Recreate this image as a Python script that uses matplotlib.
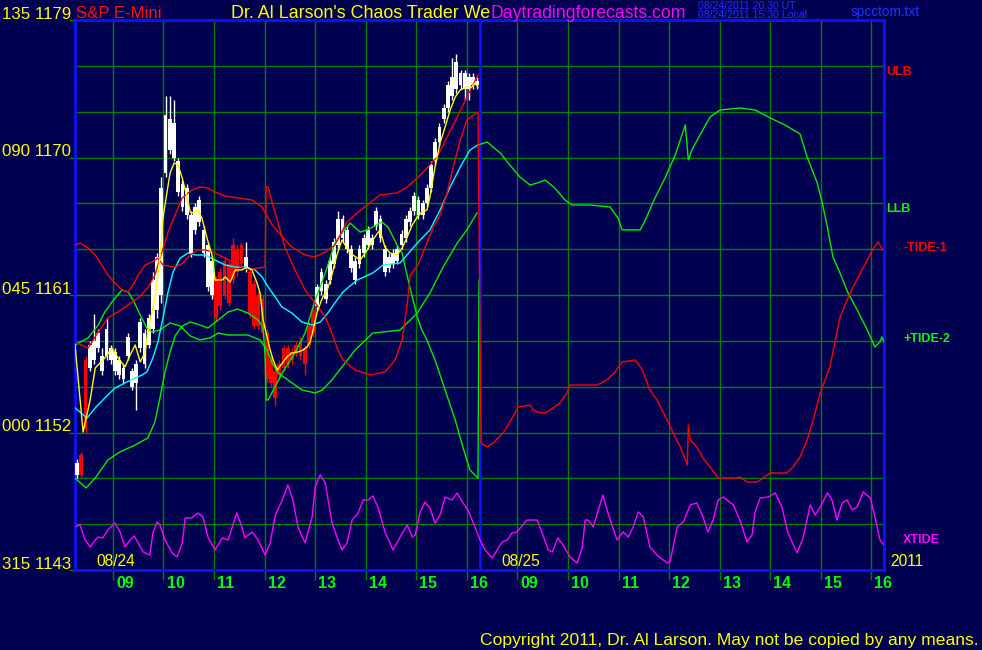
import matplotlib
matplotlib.use("Agg")
import matplotlib.pyplot as plt
import numpy as np

# ---------------- data ----------------
# 5 minute bars of 08/24 (08:15 - 16:15)
bar_hi = [1150.25, 1150.75, 1157.0, 1158.0, 1159.75, 1158.75, 1157.5, 1159.5, 1157.75, 1157.5,
          1157.0, 1156.5, 1158.5, 1156.25, 1156.75, 1159.5, 1158.75, 1159.75, 1162.5, 1163.75,
          1168.75, 1174.0, 1174.0, 1173.75, 1170.0, 1168.5, 1168.25, 1166.5, 1167.0, 1167.5,
          1165.5, 1164.5, 1163.5, 1162.25, 1162.75, 1163.5, 1163.25, 1164.75, 1164.25, 1164.5,
          1164.5, 1162.75, 1162.0, 1161.25, 1161.0, 1158.75, 1157.0, 1156.25, 1156.75, 1157.75,
          1157.75, 1157.5, 1158.0, 1158.25, 1157.75, 1159.25, 1160.25, 1161.75, 1162.75, 1162.0,
          1163.5, 1164.75, 1166.5, 1166.25, 1165.5, 1164.25, 1163.5, 1164.25, 1165.0, 1165.5,
          1165.0, 1166.75, 1166.25, 1164.25, 1163.75, 1164.0, 1164.25, 1165.25, 1166.25, 1166.75,
          1167.75, 1167.5, 1167.25, 1168.25, 1169.75, 1171.25, 1172.25, 1173.5, 1175.0, 1176.5,
          1176.75, 1175.75, 1175.75, 1175.5, 1175.5, 1175.25]
bar_lo = [1149.0, 1149.0, 1152.0, 1156.0, 1156.5, 1157.25, 1155.75, 1156.75, 1156.5, 1155.75,
          1155.5, 1155.25, 1156.75, 1154.75, 1153.5, 1157.25, 1156.25, 1157.5, 1158.5, 1159.5,
          1160.5, 1168.75, 1170.25, 1169.75, 1167.5, 1166.5, 1166.0, 1163.5, 1165.0, 1165.5,
          1163.5, 1161.25, 1160.75, 1159.25, 1160.0, 1160.75, 1160.25, 1161.75, 1162.25, 1162.75,
          1162.5, 1159.5, 1158.75, 1158.75, 1158.25, 1155.25, 1155.0, 1153.75, 1155.5, 1156.0,
          1156.25, 1156.5, 1157.0, 1156.75, 1155.75, 1157.5, 1158.25, 1160.0, 1161.0, 1160.5,
          1161.75, 1162.75, 1164.0, 1164.5, 1163.75, 1162.5, 1161.75, 1162.75, 1163.5, 1164.0,
          1164.0, 1165.25, 1164.5, 1162.25, 1162.5, 1162.75, 1163.0, 1164.0, 1164.5, 1165.5,
          1166.25, 1166.0, 1166.0, 1166.75, 1167.75, 1169.5, 1170.75, 1172.25, 1173.0, 1173.75,
          1174.25, 1174.5, 1173.75, 1173.75, 1174.5, 1174.5]
bar_op = [1149.25, 1150.5, 1156.75, 1156.25, 1156.75, 1157.5, 1156.0, 1157.0, 1156.75, 1156.0,
          1155.75, 1155.5, 1157.0, 1155.0, 1155.25, 1157.5, 1156.5, 1157.75, 1158.75, 1160.0,
          1161.0, 1169.0, 1170.5, 1172.25, 1169.75, 1168.25, 1166.25, 1166.25, 1165.25, 1165.75,
          1165.25, 1164.25, 1161.0, 1162.0, 1162.5, 1163.25, 1163.0, 1164.25, 1164.0, 1164.25,
          1162.75, 1162.5, 1161.75, 1161.0, 1160.75, 1158.5, 1156.75, 1156.0, 1156.5, 1157.5,
          1157.5, 1157.25, 1157.75, 1158.0, 1157.5, 1159.0, 1160.0, 1160.25, 1161.25, 1160.75,
          1162.0, 1163.0, 1164.25, 1164.75, 1165.25, 1164.0, 1163.25, 1163.0, 1163.75, 1164.25,
          1164.75, 1165.5, 1166.0, 1164.0, 1162.75, 1163.0, 1163.25, 1164.25, 1164.75, 1165.75,
          1166.5, 1167.25, 1166.25, 1167.0, 1168.0, 1169.75, 1171.0, 1172.5, 1173.25, 1174.0,
          1174.5, 1175.5, 1174.5, 1175.25, 1174.75, 1175.0]
bar_cl = [1150.0, 1149.25, 1152.25, 1157.75, 1158.0, 1158.5, 1157.0, 1158.75, 1157.5, 1157.25,
          1156.75, 1156.25, 1158.25, 1156.0, 1156.5, 1159.25, 1158.5, 1159.5, 1162.0, 1163.5,
          1168.0, 1172.75, 1172.5, 1170.0, 1167.75, 1166.75, 1168.0, 1163.75, 1166.75, 1167.25,
          1163.75, 1161.5, 1163.25, 1159.5, 1160.25, 1161.0, 1160.5, 1162.0, 1162.5, 1163.0,
          1163.5, 1159.75, 1159.0, 1159.0, 1158.5, 1155.5, 1155.25, 1154.25, 1155.75, 1156.25,
          1156.5, 1156.75, 1157.25, 1157.0, 1156.5, 1157.75, 1158.5, 1161.5, 1162.5, 1161.75,
          1163.25, 1164.5, 1166.0, 1166.0, 1164.0, 1162.75, 1162.0, 1164.0, 1164.75, 1165.25,
          1164.25, 1166.5, 1164.75, 1162.5, 1163.5, 1163.75, 1164.0, 1165.0, 1166.0, 1166.5,
          1167.5, 1166.25, 1167.0, 1168.0, 1169.5, 1171.0, 1172.0, 1173.25, 1174.75, 1175.25,
          1176.25, 1174.75, 1175.5, 1174.5, 1175.25, 1174.75]
bar_col = "wrr" + "w" * 30 + "r" * 7 + "w" + "r" * 16 + "w" * 39

# fast average (yellow), 08/24 clock hours
yel_t = [8.25, 8.41, 8.55, 8.65, 8.84, 8.98, 9.10, 9.24, 9.34, 9.44, 9.54, 9.64, 9.69, 9.83, 9.93,
         9.99, 10.07, 10.13, 10.21, 10.29, 10.37, 10.47, 10.53, 10.58, 10.68, 10.76, 10.86, 10.96,
         11.02, 11.16, 11.22, 11.32, 11.42, 11.55, 11.65, 11.75, 11.85, 11.91, 11.97, 12.05, 12.11,
         12.17, 12.25, 12.35, 12.44, 12.54, 12.66, 12.76, 12.84, 12.90, 12.96, 13.04, 13.14, 13.24,
         13.33, 13.43, 13.53, 13.69, 13.89, 14.03, 14.14, 14.28, 14.38, 14.48, 14.62, 14.72, 14.82,
         14.92, 15.02, 15.11, 15.21, 15.27, 15.37, 15.47, 15.57, 15.67, 15.77, 15.87, 16.00, 16.10,
         16.16, 16.22]
yel_v = [1157.73, 1152.03, 1154.13, 1156.22, 1156.88, 1157.53, 1156.88, 1156.29, 1157.07, 1157.73,
         1156.62, 1157.27, 1158.58, 1160.80, 1163.42, 1166.04, 1167.74, 1168.99, 1169.64, 1169.51,
         1168.66, 1167.35, 1166.43, 1166.37, 1166.56, 1166.04, 1164.73, 1163.62, 1161.98, 1161.98,
         1162.18, 1161.85, 1162.64, 1162.64, 1162.83, 1162.64, 1161.79, 1161.13, 1159.36, 1158.25,
         1157.40, 1156.75, 1156.09, 1156.55, 1156.94, 1157.21, 1157.27, 1157.40, 1157.60, 1157.93,
         1158.71, 1159.89, 1160.80, 1161.33, 1162.31, 1163.62, 1164.60, 1163.75, 1163.29, 1163.95,
         1164.60, 1165.26, 1164.14, 1163.75, 1163.62, 1164.08, 1164.80, 1165.58, 1166.11, 1166.43,
         1166.56, 1167.42, 1169.38, 1170.95, 1172.00, 1173.11, 1173.96, 1174.42, 1174.61, 1174.61,
         1174.88, 1174.61]

# slow average (cyan)
cya_t = [8.25, 8.49, 8.65, 8.84, 9.04, 9.24, 9.44, 9.58, 9.67, 9.79, 9.89, 9.99, 10.09, 10.19, 10.33,
         10.49, 10.62, 10.82, 11.02, 11.22, 11.42, 11.61, 11.81, 11.95, 12.07, 12.21, 12.34, 12.54,
         12.74, 12.94, 13.10, 13.25, 13.39, 13.55, 13.83, 14.14, 14.34, 14.68, 15.02, 15.27, 15.47,
         15.67, 15.87, 16.06, 16.22]
cya_v = [1153.61, 1152.95, 1153.61, 1154.26, 1154.91, 1155.24, 1155.57, 1155.77, 1155.96, 1156.88,
         1157.93, 1159.50, 1161.20, 1162.51, 1163.42, 1163.75, 1163.62, 1163.62, 1163.29, 1162.96,
         1162.83, 1162.83, 1162.64, 1162.18, 1161.53, 1160.87, 1160.22, 1159.82, 1159.23, 1159.04,
         1159.23, 1159.82, 1160.48, 1161.20, 1161.98, 1162.44, 1162.96, 1163.10, 1164.40, 1165.26,
         1166.56, 1168.07, 1169.38, 1170.49, 1170.82]

# upper band (red)
ulb_t = [8.29, 8.51, 8.71, 8.90, 9.10, 9.30, 9.50, 9.69, 9.83, 9.97, 10.09, 10.23, 10.37, 10.56,
         10.72, 10.88, 11.02, 11.22, 11.47, 11.75, 11.95, 12.01, 12.15, 12.35, 12.54, 12.80, 13.00,
         13.20, 13.39, 13.63, 13.83, 14.03, 14.28, 14.62, 14.82, 15.02, 15.21, 15.41, 15.61, 15.81,
         16.00, 16.22]
ulb_v = [1157.86, 1157.53, 1158.58, 1159.50, 1159.89, 1160.35, 1160.80, 1161.46, 1162.31, 1163.82,
         1165.12, 1166.24, 1167.35, 1167.87, 1168.07, 1168.00, 1167.74, 1167.48, 1167.35, 1167.22,
         1166.76, 1166.37, 1165.58, 1164.80, 1164.14, 1163.62, 1163.49, 1163.82, 1164.27, 1165.78,
         1166.37, 1166.89, 1167.55, 1167.68, 1168.07, 1168.66, 1169.31, 1170.03, 1171.34, 1172.65,
         1173.96, 1175.40]

# -TIDE-1 (red), 08/24 part and 08/25 part
td1a_t = [8.25, 8.35, 8.51, 8.65, 8.78, 8.90, 9.04, 9.18, 9.30, 9.40, 9.50, 9.64, 9.77, 9.89, 9.99,
          10.23, 10.39, 10.53, 10.68, 10.82, 10.96, 11.22, 11.47, 11.67, 11.87, 12.01, 12.03, 12.07,
          12.15, 12.25, 12.40, 12.60, 12.80, 13.00, 13.20, 13.33, 13.45, 13.55, 13.79, 14.09, 14.38,
          14.58, 14.72, 14.82, 14.88, 15.03, 15.21, 15.33, 15.47, 15.61, 15.73, 15.87, 16.00, 16.22]
td1a_v = [1164.27, 1164.40, 1164.08, 1163.62, 1162.96, 1162.31, 1161.79, 1161.33, 1161.20, 1161.66,
          1162.31, 1162.96, 1163.16, 1163.42, 1162.96, 1162.83, 1163.10, 1163.62, 1163.95, 1163.95,
          1163.82, 1163.42, 1162.96, 1162.64, 1162.77, 1162.83, 1168.07, 1168.07, 1167.02, 1165.91,
          1164.14, 1162.64, 1161.33, 1160.48, 1159.56, 1158.51, 1157.40, 1156.75, 1156.09, 1155.77,
          1155.96, 1156.75, 1158.06, 1160.35, 1162.31, 1162.96, 1164.40, 1165.39, 1166.24, 1167.68,
          1169.38, 1171.15, 1172.46, 1172.98]
td1b_t = [8.28, 8.40, 8.52, 8.72, 8.91, 9.01, 9.25, 9.31, 9.45, 9.59, 9.84, 9.98, 10.04, 10.58, 10.77,
          10.93, 11.07, 11.33, 11.47, 11.62, 11.76, 11.86, 11.96, 12.08, 12.22, 12.36, 12.38, 12.42,
          12.55, 12.67, 12.81, 12.97, 13.34, 13.40, 13.54, 13.74, 13.86, 14.00, 14.33, 14.45, 14.59,
          14.73, 14.85, 14.99, 15.18, 15.38, 15.58, 15.74, 15.92, 16.02, 16.13, 16.23]
td1b_v = [1151.31, 1151.05, 1151.31, 1151.97, 1153.02, 1153.67, 1153.80, 1153.47, 1153.28, 1153.34,
          1153.93, 1154.59, 1155.11, 1155.11, 1155.44, 1155.96, 1156.62, 1156.75, 1156.09, 1154.78,
          1154.13, 1153.47, 1152.82, 1151.97, 1151.05, 1149.87, 1152.49, 1151.51, 1151.05, 1150.33,
          1149.74, 1149.02, 1149.02, 1149.09, 1148.76, 1148.76, 1149.02, 1149.35, 1149.35, 1149.74,
          1150.40, 1151.51, 1152.82, 1154.59, 1156.27, 1159.56, 1161.13, 1162.18, 1163.29, 1163.95,
          1164.47, 1163.95]

# +TIDE-2 (green), 08/25
td2_t = [8.22, 8.40, 8.66, 8.85, 9.05, 9.25, 9.39, 9.55, 9.74, 9.94, 10.08, 10.44, 10.83, 10.99, 11.07,
         11.43, 11.53, 11.72, 11.92, 12.12, 12.32, 12.38, 12.45, 12.61, 12.81, 13.01, 13.40, 13.70,
         14.00, 14.29, 14.59, 14.73, 14.93, 15.03, 15.13, 15.24, 15.38, 15.54, 15.72, 15.92, 16.07,
         16.17, 16.21, 16.25]
td2_v = [1170.82, 1171.01, 1170.30, 1169.51, 1168.72, 1168.20, 1168.33, 1168.53, 1168.00, 1167.22,
         1166.89, 1166.89, 1166.76, 1166.04, 1165.26, 1165.26, 1165.91, 1167.35, 1168.66, 1170.16,
         1172.13, 1169.84, 1170.49, 1171.47, 1172.65, 1173.11, 1173.24, 1173.11, 1172.59, 1172.13,
         1171.54, 1170.03, 1168.33, 1167.02, 1165.45, 1163.49, 1162.44, 1161.13, 1160.02, 1158.71,
         1157.60, 1157.93, 1158.25, 1157.93]

# green lines of 08/24
gra_t = [8.25, 8.51, 8.71, 8.84, 8.98, 9.18, 9.30, 9.40, 9.54, 9.67, 9.77, 9.93, 10.13, 10.33, 10.53,
         10.72, 10.92, 11.08, 11.28, 11.67, 11.91, 12.05, 12.15, 12.27, 12.46, 12.74, 13.00, 13.14,
         13.33, 13.53, 13.79, 14.14, 14.34, 14.68, 14.82, 15.02, 15.27, 15.53, 15.81, 16.00, 16.20]
gra_v = [1157.73, 1158.19, 1159.04, 1159.89, 1160.54, 1161.33, 1161.20, 1160.67, 1159.69, 1158.84,
         1158.58, 1158.71, 1159.17, 1158.97, 1158.32, 1158.06, 1158.19, 1158.51, 1158.38, 1158.38,
         1158.06, 1157.40, 1156.55, 1155.90, 1155.44, 1154.78, 1154.59, 1154.78, 1155.44, 1156.29,
         1157.40, 1158.51, 1158.58, 1158.71, 1159.17, 1159.82, 1161.13, 1162.83, 1164.40, 1165.26,
         1166.37]
grb_t = [8.25, 8.47, 8.65, 8.90, 9.14, 9.44, 9.69, 9.83, 9.93, 10.03, 10.13, 10.23, 10.37, 10.53,
         10.72, 10.88, 11.08, 11.28, 11.47, 11.67, 11.87, 11.97, 12.01, 12.03, 12.07, 12.35, 12.60,
         12.80, 13.00, 13.20, 13.39, 13.53, 13.69, 13.89, 14.03, 14.14, 14.32, 14.44, 14.54, 14.64,
         14.72, 14.78, 14.84, 14.92, 15.02, 15.11, 15.21, 15.37, 15.57, 15.77, 15.91, 16.06, 16.22,
         16.24]
grb_v = [1149.02, 1148.37, 1149.02, 1150.20, 1150.73, 1151.18, 1151.64, 1152.69, 1154.26, 1155.96,
         1157.27, 1158.32, 1158.97, 1159.23, 1159.04, 1158.84, 1159.36, 1159.89, 1160.08, 1159.82,
         1159.36, 1158.91, 1156.94, 1154.13, 1154.13, 1155.90, 1157.21, 1158.51, 1160.67, 1162.44,
         1164.40, 1165.06, 1165.71, 1165.12, 1165.26, 1165.45, 1165.78, 1165.45, 1164.80, 1164.14,
         1163.75, 1162.83, 1161.98, 1160.87, 1159.56, 1158.71, 1158.06, 1156.75, 1154.78, 1152.82,
         1151.18, 1149.55, 1149.02, 1161.98]

# XTIDE (magenta), 08/24 part and 08/25 part
xta_t = [8.25, 8.35, 8.45, 8.55, 8.65, 8.71, 8.80, 8.90, 9.04, 9.14, 9.24, 9.34, 9.42, 9.50, 9.60,
         9.73, 9.79, 9.87, 9.93, 10.03, 10.17, 10.27, 10.37, 10.43, 10.56, 10.68, 10.78, 10.88, 11.02,
         11.16, 11.28, 11.36, 11.45, 11.55, 11.61, 11.75, 11.87, 12.01, 12.11, 12.21, 12.35, 12.46,
         12.56, 12.66, 12.80, 12.94, 13.00, 13.10, 13.20, 13.33, 13.43, 13.53, 13.63, 13.73, 13.85,
         13.95, 14.05, 14.14, 14.24, 14.38, 14.54, 14.68, 14.82, 14.92, 14.98, 15.07, 15.17, 15.27,
         15.37, 15.47, 15.57, 15.71, 15.81, 15.91, 16.02, 16.16]
xta_v = [1145.82, 1145.95, 1144.97, 1144.51, 1144.97, 1145.16, 1145.10, 1145.62, 1146.08, 1145.49,
         1144.51, 1144.97, 1145.23, 1144.77, 1144.18, 1143.98, 1145.42, 1146.14, 1145.95, 1144.97,
         1144.12, 1143.85, 1144.77, 1146.41, 1146.41, 1146.73, 1146.47, 1145.16, 1144.31, 1145.10,
         1144.97, 1145.82, 1146.73, 1145.82, 1145.10, 1145.49, 1144.97, 1143.98, 1144.77, 1146.60,
         1147.58, 1148.57, 1147.58, 1145.82, 1144.77, 1146.47, 1148.44, 1149.22, 1148.70, 1146.14,
         1145.16, 1144.31, 1144.77, 1146.27, 1146.73, 1147.58, 1147.58, 1147.85, 1147.13, 1145.49,
         1144.31, 1145.16, 1145.95, 1145.16, 1145.29, 1146.73, 1147.45, 1147.06, 1146.08, 1146.60,
         1147.78, 1147.58, 1148.04, 1147.45, 1146.93, 1145.82]
xtb_t = [8.26, 8.36, 8.50, 8.60, 8.70, 8.80, 8.89, 8.99, 9.19, 9.39, 9.49, 9.61, 9.69, 9.80, 9.90,
         10.04, 10.18, 10.28, 10.34, 10.40, 10.50, 10.60, 10.69, 10.79, 10.97, 11.09, 11.19, 11.29,
         11.39, 11.49, 11.62, 11.76, 11.96, 12.02, 12.16, 12.28, 12.42, 12.55, 12.67, 12.77, 12.87,
         12.97, 13.07, 13.27, 13.40, 13.54, 13.64, 13.70, 13.80, 13.96, 14.10, 14.23, 14.35, 14.53,
         14.65, 14.79, 14.89, 14.99, 15.13, 15.22, 15.32, 15.42, 15.52, 15.62, 15.72, 15.84, 15.98,
         16.07, 16.17, 16.25]
xtb_v = [1144.97, 1144.31, 1143.79, 1144.31, 1144.84, 1144.97, 1145.42, 1145.49, 1146.27, 1146.27,
         1145.42, 1144.31, 1144.18, 1145.10, 1144.64, 1143.85, 1143.46, 1144.44, 1146.27, 1146.27,
         1145.82, 1146.93, 1147.91, 1146.73, 1144.97, 1145.49, 1145.16, 1145.82, 1146.80, 1146.47,
         1144.51, 1143.98, 1143.46, 1143.53, 1145.82, 1146.14, 1147.26, 1147.39, 1146.47, 1145.49,
         1146.27, 1147.58, 1147.78, 1147.26, 1146.27, 1144.84, 1145.29, 1146.80, 1147.71, 1147.78,
         1148.04, 1147.13, 1145.42, 1144.12, 1145.10, 1147.26, 1146.60, 1147.13, 1148.04, 1147.58,
         1146.27, 1147.39, 1147.58, 1146.93, 1147.13, 1148.11, 1147.71, 1146.47, 1144.97, 1144.64]

hours = [9, 10, 11, 12, 13, 14, 15, 16]
hour_lbl = ["09", "10", "11", "12", "13", "14", "15", "16"]
angle_lbl = ["135", "090", "045", "000", "315"]
price_lbl = [1179, 1170, 1161, 1152, 1143]

# ---------------- style ----------------
W, H = 982, 650
bg = "#000050"
grid_c = "#008000"
frame_c = "#0a14ff"
plt.rcParams["font.family"] = ["Liberation Sans", "DejaVu Sans"]


def d1(t):
    # 08/24 clock hour -> chart position
    return np.asarray(t) - 8.25


def d2(t):
    # 08/25 clock hour -> chart position
    return np.asarray(t) - 0.25


def fp(x, y):
    return x / W, 1 - y / H


fig = plt.figure(figsize=(W / 100, H / 100), dpi=100)
fig.patch.set_facecolor(bg)
ax = fig.add_axes([75 / W, 80 / H, 809 / W, 550 / H])
ax.set_facecolor(bg)
ax.set_xlim(0, 16)
ax.set_ylim(1143, 1179)

xt = list(d1(hours)) + list(d2(hours))
ax.set_xticks(xt)
ax.set_xticklabels([])
ax.set_yticks(price_lbl)
ax.set_yticks(np.arange(1146, 1177, 3), minor=True)
ax.set_yticklabels([])
ax.grid(True, which="both", color=grid_c, lw=1)
ax.set_axisbelow(True)
ax.tick_params(axis="x", colors=grid_c, length=7, width=1, direction="out")
ax.tick_params(axis="y", which="major", colors=grid_c, length=4, width=1)
ax.tick_params(axis="y", which="minor", length=0)
for s in ax.spines.values():
    s.set_color(frame_c)
    s.set_linewidth(2)
ax.axvline(8.0, color=frame_c, lw=2, zorder=2)

# bars
bt = d1(8.25 + (np.arange(len(bar_hi)) + 0.5) / 12)
cols = ["#ffffff" if c == "w" else "#ff0000" for c in bar_col]
ax.vlines(bt, bar_lo, bar_hi, colors=cols, lw=1, zorder=3)
bot = np.minimum(bar_op, bar_cl)
top = np.maximum(bar_op, bar_cl)
ax.bar(bt, top - bot, bottom=bot, width=0.075, color=cols, lw=0, zorder=3)

# lines
lw = 1.0
ax.plot(np.r_[d1(xta_t), d2(xtb_t)], np.r_[xta_v, xtb_v], color="#ff00ff", lw=lw, zorder=4)
ax.plot(d1(gra_t), gra_v, color="#00ee00", lw=lw, zorder=4)
ax.plot(d1(grb_t), grb_v, color="#00ee00", lw=lw, zorder=4)
ax.plot(d2(td2_t), td2_v, color="#00ee00", lw=lw, zorder=4)
ax.plot(d1(cya_t), cya_v, color="#00ffff", lw=lw, zorder=4)
ax.plot(d1(ulb_t), ulb_v, color="#ff0000", lw=lw, zorder=4)
ax.plot(np.r_[d1(td1a_t), d2(td1b_t)], np.r_[td1a_v, td1b_v], color="#ff0000", lw=lw, zorder=4)
ax.plot(d1(yel_t), yel_v, color="#ffff00", lw=lw, zorder=5)

# left scale labels
ytr = ax.get_yaxis_transform()
for a, p in zip(angle_lbl, price_lbl):
    ax.text(-4 / 809, p + 0.08, f"{a} {p}", transform=ytr, ha="right", va="baseline",
            color="#ffff00", fontsize=12.2, clip_on=False)

# hour labels
xtr = ax.get_xaxis_transform()
for x, lab in zip(xt, hour_lbl + hour_lbl):
    ax.text(x + 0.06, -0.011, lab, transform=xtr, ha="left", va="top",
            color="#00ff00", fontsize=11.5, fontweight="bold", clip_on=False)

# date labels
fig.text(*fp(96, 566), "08/24", color="#ffff00", fontsize=11.2, ha="left", va="baseline")
fig.text(*fp(501, 566), "08/25", color="#ffff00", fontsize=11.2, ha="left", va="baseline")
fig.text(*fp(890, 566), "2011", color="#ffff00", fontsize=11.2, ha="left", va="baseline")

# right labels
fig.text(*fp(886, 75), "ULB", color="#ff0000", fontsize=9, fontweight="bold")
fig.text(*fp(886, 212), "LLB", color="#00ff00", fontsize=9, fontweight="bold")
fig.text(*fp(903, 251), "-TIDE-1", color="#ff0000", fontsize=9, fontweight="bold")
fig.text(*fp(904, 342), "+TIDE-2", color="#00ff00", fontsize=9, fontweight="bold")
fig.text(*fp(903, 543), "XTIDE", color="#ff00ff", fontsize=9, fontweight="bold")

# header
fig.text(*fp(76, 18), "S&P E-Mini", color="#ff1010", fontsize=12.1)
fig.text(*fp(231, 18), "Dr. Al Larson's Chaos Trader We", color="#ffff00", fontsize=12.9)
fig.text(*fp(490, 18), "Daytradingforecasts.com", color="#ff00ff", fontsize=12.7)
fig.text(*fp(698, 9), "08/24/2011 20:30 UT", color="#2030ff", fontsize=7.6)
fig.text(*fp(698, 18), "08/24/2011 15:30 Local", color="#2030ff", fontsize=7.6)
fig.text(*fp(851, 16), "spcctom.txt", color="#2030ff", fontsize=9.8)

fig.text(*fp(480, 645), "Copyright 2011, Dr. Al Larson. May not be copied by any means.",
         color="#ffff00", fontsize=12.6)

fig.savefig("out.png", dpi=100, facecolor=bg)
